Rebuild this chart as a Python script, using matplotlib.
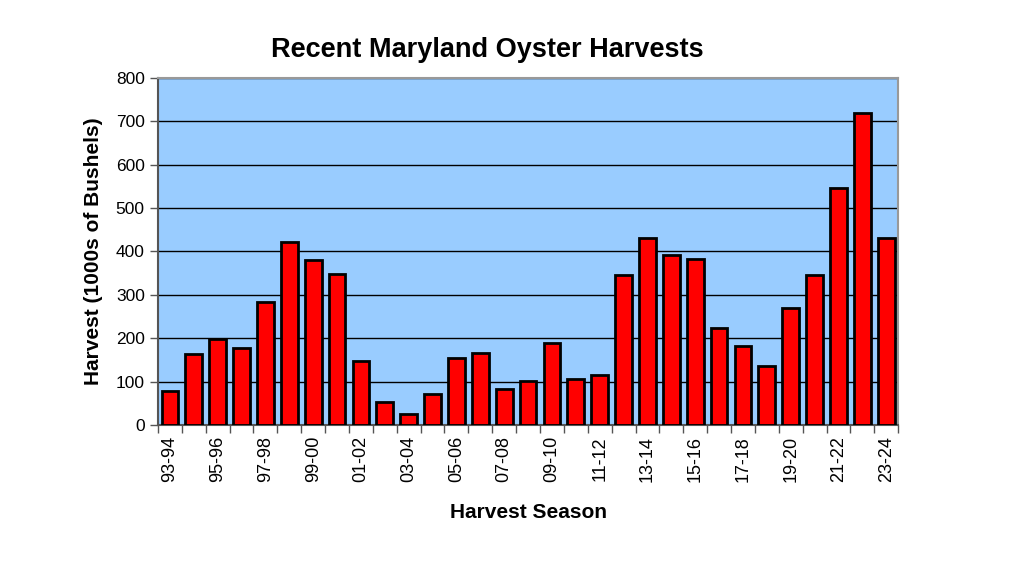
# Recent Maryland oyster harvests bar chart

import matplotlib
matplotlib.use("Agg")
import matplotlib.pyplot as plt
import numpy as np

plt.rcParams["font.family"] = ["Liberation Sans", "DejaVu Sans"]

# Data (1000s of bushels)
seasons = ["93-94", "94-95", "95-96", "96-97", "97-98", "98-99", "99-00", "00-01",
           "01-02", "02-03", "03-04", "04-05", "05-06", "06-07", "07-08", "08-09",
           "09-10", "10-11", "11-12", "12-13", "13-14", "14-15", "15-16", "16-17",
           "17-18", "18-19", "19-20", "20-21", "21-22", "22-23", "23-24"]
harvest = [79, 164, 199, 177, 284, 422, 380, 348,
           148, 54, 26, 71, 155, 165, 83, 101,
           189, 105, 116, 346, 430, 393, 383, 224,
           181, 136, 269, 346, 546, 719, 430]
y_ticks = [0, 100, 200, 300, 400, 500, 600, 700, 800]

fig = plt.figure(figsize=(10.16, 5.65), dpi=100)
ax = fig.add_axes([0.1555, 0.2478, 0.7285, 0.6142])

x = np.arange(len(seasons))
ax.set_facecolor("#99ccff")
ax.bar(x, harvest, width=0.7, color="#ff0000", edgecolor="black", linewidth=2, zorder=3)

ax.set_xlim(-0.5, len(seasons) - 0.5)
ax.set_ylim(0, 800)
ax.set_yticks(y_ticks)
ax.yaxis.grid(True, color="black", linewidth=1)
ax.set_axisbelow(True)

# category labels every other bar, tick marks at category boundaries
ax.set_xticks(x[::2])
ax.set_xticklabels(seasons[::2], rotation=90, fontsize=13)
ax.set_xticks(np.arange(-0.5, len(seasons)), minor=True)
ax.tick_params(axis="x", which="major", length=0, pad=8)
ax.tick_params(axis="x", which="minor", length=6, width=1, color="#555555")
ax.tick_params(axis="y", length=6, width=1, labelsize=12.5, color="#555555")

for side in ["top", "right"]:
    ax.spines[side].set_color("#999999")
    ax.spines[side].set_linewidth(1.5)
for side in ["left", "bottom"]:
    ax.spines[side].set_color("#555555")
    ax.spines[side].set_linewidth(1.5)

ax.set_xlabel("Harvest Season", fontsize=15, fontweight="bold", labelpad=15)
ax.set_ylabel("Harvest (1000s of Bushels)", fontsize=15, fontweight="bold", labelpad=9)
fig.text(0.48, 0.912, "Recent Maryland Oyster Harvests", ha="center", va="center",
         fontsize=19.5, fontweight="bold")

fig.savefig("out.png", dpi=100)
